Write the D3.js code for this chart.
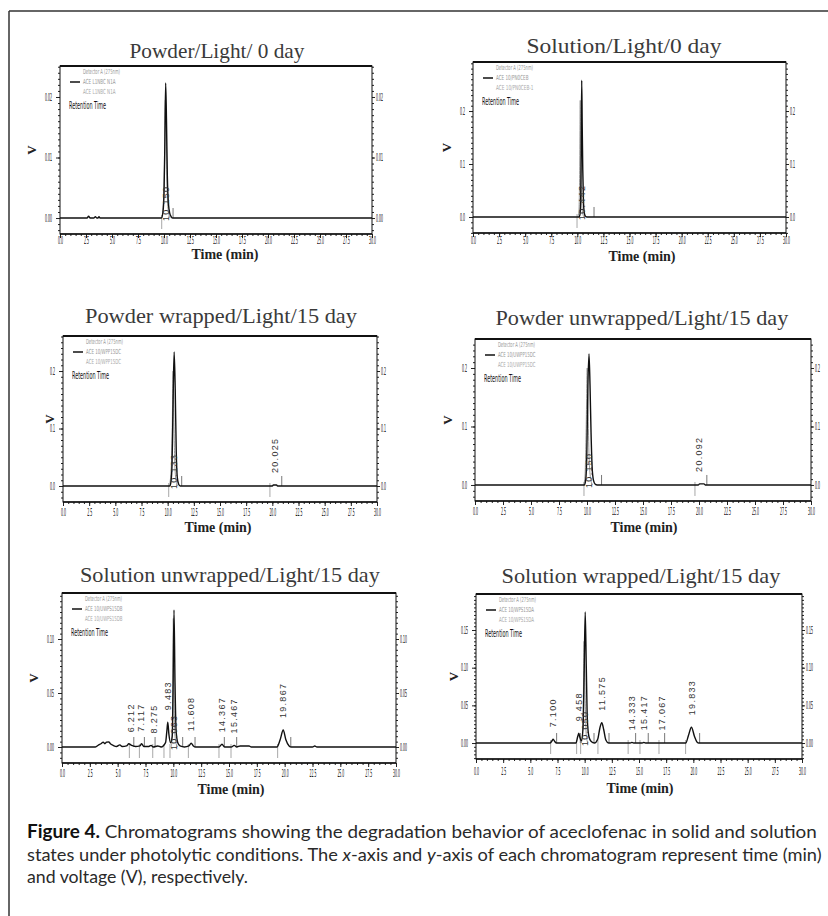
<!DOCTYPE html>
<html><head><meta charset="utf-8">
<script src="https://cdn.jsdelivr.net/npm/d3@7"></script>
<style>body{margin:0;background:#fff}svg{display:block}</style>
</head><body>
<svg id="fig" width="828" height="916"></svg>
<script>
// ---------------- DATA ----------------
const xTicks = [0, 2.5, 5, 7.5, 10, 12.5, 15, 17.5, 20, 22.5, 25, 27.5, 30];
const titles = ["Powder/Light/ 0 day", "Solution/Light/0 day", "Powder wrapped/Light/15 day",
  "Powder unwrapped/Light/15 day", "Solution unwrapped/Light/15 day", "Solution wrapped/Light/15 day"];
const yDomains = [[-0.00264, 0.02512], [-0.0302, 0.2925], [-0.0278, 0.2609], [-0.0274, 0.2496], [-0.0148, 0.1426], [-0.0212, 0.1978]];
const yTicks = [[0, 0.01, 0.02], [0, 0.1, 0.2], [0, 0.1, 0.2], [0, 0.1, 0.2], [0, 0.05, 0.10], [0, 0.05, 0.10, 0.15]];
const yTickFormats = [".2f", ".1f", ".1f", ".1f", ".2f", ".2f"];
const yMinorSteps = [0.001, 0.01, 0.01, 0.01, 0.005, 0.005];
const legendDetector = "Detector A (275nm)";
const legendSample = ["ACE L1NBC N1A", "ACE 10/PN0CEB", "ACE 10/WPP15DC", "ACE 10/UWPP15DC", "ACE 10/UWPS15DB", "ACE 10/WPS15DA"];
const legendBlank = ["ACE L1NBC N1A", "ACE 10/PN0CEB-1", "ACE 10/WPP15DC", "ACE 10/UWPP15DC", "ACE 10/UWPS15DB", "ACE 10/WPS15DA"];
const legendRetention = "Retention Time";

const trace1 = [[0,0],[2.6,0],[2.75,0.0003],[2.9,0],[3.25,0],[3.4,0.0002],[3.55,0],[3.65,0],[3.75,0.0002],[3.85,0],[9.75,0],[9.9,0.001],[10.0,0.004],[10.08,0.012],[10.16,0.0223],[10.24,0.016],[10.32,0.007],[10.42,0.0025],[10.55,0.0008],[10.7,0.0002],[10.85,0],[30,0]];
const overlay1 = [[9.8,0],[9.95,0.003],[10.05,0.009],[10.13,0.0195],[10.22,0.014],[10.3,0.005],[10.42,0.001],[10.6,0]];
const peaks1 = [[10.16,0.0223,"10.150"]];
const starts1 = [9.78];
const ends1 = [10.87];

const trace2 = [[0,0],[10.15,0],[10.25,0.004],[10.32,0.03],[10.37,0.12],[10.42,0.258],[10.47,0.17],[10.52,0.09],[10.58,0.035],[10.65,0.01],[10.75,0.002],[10.9,0],[30,0]];
const overlay2 = [[10.05,0],[10.15,0.01],[10.22,0.08],[10.28,0.22],[10.33,0.12],[10.4,0.04],[10.5,0.008],[10.65,0]];
const peaks2 = [[10.42,0.258,"10.442"]];
const starts2 = [9.97];
const ends2 = [11.6];

const trace3 = [[0,0],[10.2,0],[10.32,0.008],[10.42,0.04],[10.52,0.15],[10.62,0.233],[10.72,0.17],[10.82,0.06],[10.92,0.015],[11.05,0.003],[11.2,0],[20.0,0],[20.1,0.0018],[20.4,0.0018],[20.5,0],[30,0]];
const overlay3 = [[10.15,0],[10.3,0.02],[10.42,0.08],[10.52,0.2],[10.6,0.11],[10.7,0.03],[10.85,0.005],[11.0,0]];
const peaks3 = [[10.62,0.233,"10.133"],[20.28,0.0018,"20.025"]];
const starts3 = [10.1, 19.77];
const ends3 = [11.34, 20.9];

const trace4 = [[0,0],[9.75,0],[9.88,0.008],[9.98,0.05],[10.08,0.17],[10.18,0.224],[10.27,0.17],[10.36,0.09],[10.46,0.03],[10.58,0.008],[10.75,0.001],[10.9,0],[19.95,0],[20.05,0.0018],[20.45,0.0018],[20.55,0],[30,0]];
const overlay4 = [[9.7,0],[9.82,0.015],[9.92,0.09],[10.02,0.2],[10.1,0.12],[10.2,0.04],[10.35,0.008],[10.5,0]];
const peaks4 = [[10.18,0.224,"10.150"],[20.0,0.0018,"20.092"]];
const starts4 = [9.73, 19.64];
const ends4 = [11.3, 20.7];

const trace5 = [[0,0],[3.0,0],[3.3,0.002],[3.5,0.003],[3.7,0.0045],[3.85,0.003],[4.0,0.0045],[4.2,0.0048],[4.35,0.003],[4.6,0.0015],[4.9,0.0005],[5.2,0.002],[5.4,0.0005],[5.8,0.001],[6.0,0.003],[6.25,0.0015],[6.6,0.0005],[7.0,0.001],[7.15,0.003],[7.35,0.0005],[7.8,0.0005],[8.0,0.0015],[8.2,0],[8.6,0.001],[8.9,0],[9.3,0.004],[9.42,0.015],[9.5,0.023],[9.6,0.012],[9.75,0.004],[9.9,0.01],[9.97,0.05],[10.06,0.127],[10.15,0.06],[10.25,0.015],[10.4,0.004],[10.6,0.001],[11.0,0],[11.4,0.001],[11.6,0.0035],[11.8,0.001],[12.0,0],[14.1,0],[14.37,0.0025],[14.6,0],[15.2,0],[15.47,0.0015],[15.7,0],[16.0,0.001],[16.8,0.001],[17.0,0],[19.3,0],[19.6,0.007],[19.87,0.0157],[20.1,0.007],[20.4,0.001],[20.6,0],[22.5,0],[22.7,0.001],[22.9,0],[30,0]];
const overlay5 = [[9.8,0],[9.9,0.01],[9.96,0.05],[10.0,0.119],[10.05,0.06],[10.12,0.015],[10.25,0.003],[10.4,0]];
const peaks5 = [[6.212,0.0025,"6.212"],[7.117,0.003,"7.117"],[8.275,0.0015,"8.275"],[9.483,0.023,"9.483"],[10.063,0.127,"10.063"],[11.608,0.0035,"11.608"],[14.367,0.0025,"14.367"],[15.467,0.0015,"15.467"],[19.867,0.0157,"19.867"]];
const starts5 = [6.05, 6.95, 8.15, 9.16, 9.7, 11.35, 14.1, 15.18, 19.37];
const ends5 = [6.45, 7.4, 8.36, 10.84, 11.95, 14.58, 15.69, 20.55];

const trace6 = [[0,0],[6.8,0],[7.0,0.003],[7.1,0.005],[7.25,0.002],[7.4,0],[9.2,0],[9.35,0.008],[9.46,0.013],[9.55,0.008],[9.7,0.003],[9.85,0.02],[9.95,0.09],[10.05,0.174],[10.15,0.1],[10.25,0.03],[10.4,0.008],[10.6,0.002],[10.9,0],[11.2,0.005],[11.4,0.02],[11.575,0.027],[11.75,0.018],[11.95,0.004],[12.2,0],[14.2,0],[14.33,0.0008],[14.5,0],[15.3,0],[15.42,0.0008],[15.6,0],[19.3,0],[19.55,0.01],[19.83,0.021],[20.1,0.009],[20.35,0.001],[20.5,0],[30,0]];
const overlay6 = [[9.7,0],[9.85,0.03],[9.95,0.135],[10.05,0.06],[10.15,0.01],[10.3,0]];
const peaks6 = [[7.100,0.005,"7.100"],[9.458,0.013,"9.458"],[10.050,0.174,"10.050"],[11.575,0.027,"11.575"],[14.333,0.001,"14.333"],[15.417,0.001,"15.417"],[17.067,0.0008,"17.067"],[19.833,0.021,"19.833"]];
const starts6 = [6.87, 9.26, 9.63, 11.22, 14.0, 15.09, 16.84, 19.29];
const ends6 = [7.42, 9.6, 10.86, 12.24, 14.69, 15.85, 17.36, 20.58];

const captionLines = [
  [["Figure 4.", "b"], [" Chromatograms showing the degradation behavior of aceclofenac in solid and solution", ""]],
  [["states under photolytic conditions. The ", ""], ["x", "i"], ["-axis and ", ""], ["y", "i"], ["-axis of each chromatogram represent time (min)", ""]],
  [["and voltage (V), respectively.", ""]]
];

// ---------------- LAYOUT ----------------
const traces = [trace1, trace2, trace3, trace4, trace5, trace6];
const overlays = [overlay1, overlay2, overlay3, overlay4, overlay5, overlay6];
const peaks = [peaks1, peaks2, peaks3, peaks4, peaks5, peaks6];
const starts = [starts1, starts2, starts3, starts4, starts5, starts6];
const ends = [ends1, ends2, ends3, ends4, ends5, ends6];

const layout = [
  {box:[60,66,372,234],  titleX:217, titleY:58,  titleW:175, timeX:225, timeY:259, xLab:6,  vX:31},
  {box:[473,62,786,233], titleX:624, titleY:53,  titleW:195, timeX:642, timeY:261, xLab:7,  vX:446},
  {box:[63,336,377,502], titleX:221, titleY:323, titleW:272, timeX:218, timeY:532, xLab:10, vX:49},
  {box:[475,339,811,501],titleX:642, titleY:325, titleW:293, timeX:644, timeY:532, xLab:10, vX:447},
  {box:[62,593,396,763], titleX:230, titleY:582, titleW:300, timeX:231, timeY:794, xLab:10, vX:33},
  {box:[476,594,802,759],titleX:641, titleY:583, titleW:279, timeX:640, timeY:793, xLab:12, vX:453}
];

const NARROW = "'Liberation Sans Narrow','DejaVu Sans Condensed','Liberation Sans',sans-serif";
const SERIF = "'Liberation Serif','DejaVu Serif',serif";

const svg = d3.select("#fig");
svg.append("rect").attr("width", 828).attr("height", 916).attr("fill", "#fff");
svg.append("line").attr("x1", 9).attr("y1", 11).attr("x2", 828).attr("y2", 11).attr("stroke", "#333").attr("stroke-width", 1.5);
svg.append("line").attr("x1", 9).attr("y1", 11).attr("x2", 9).attr("y2", 916).attr("stroke", "#333").attr("stroke-width", 1.5);

function fitText(sel, x, y, w, anchor) {
  sel.attr("x", 0).attr("y", 0).attr("text-anchor", "start");
  const len = sel.node().getComputedTextLength();
  const sx = w / len;
  const left = anchor === "middle" ? x - w / 2 : x;
  sel.attr("transform", `translate(${left},${y}) scale(${sx},1)`);
}

function styleTicks(sel, size, perChar) {
  sel.attr("font-family", NARROW).attr("font-size", size).attr("fill", "#111")
    .attr("lengthAdjust", "spacingAndGlyphs")
    .attr("textLength", function () { const t = this.textContent; return t.replace(".", "").length * perChar + 1.2; });
}

titles.forEach((title, i) => {
  const L = layout[i];
  const [x0, y0, x1, y1] = L.box;
  const yd = yDomains[i];
  const x = d3.scaleLinear().domain([0, 30]).range([x0, x1]);
  const y = d3.scaleLinear().domain(yd).range([y1, y0]);
  const g = svg.append("g");

  const cid = "clip" + i;
  svg.append("clipPath").attr("id", cid).append("rect")
    .attr("x", x0).attr("y", y0).attr("width", x1 - x0).attr("height", y1 - y0);

  // title
  const tt = g.append("text").text(title).attr("font-family", SERIF).attr("font-size", 21).attr("fill", "#3a3a3a");
  fitText(tt, L.titleX, L.titleY, L.titleW, "middle");

  // minor x ticks
  const minorX = d3.range(0, 30.001, 0.5);
  g.append("g").attr("transform", `translate(0,${y1})`)
    .call(d3.axisBottom(x).tickValues(minorX).tickSize(2).tickFormat(""))
    .call(s => s.select(".domain").remove())
    .selectAll("line").attr("stroke", "#222");
  const ax = g.append("g").attr("transform", `translate(0,${y1})`)
    .call(d3.axisBottom(x).tickValues(xTicks).tickSize(4).tickFormat(d3.format(".1f")));
  ax.select(".domain").remove();
  ax.selectAll("line").attr("stroke", "#222");
  ax.selectAll("text").attr("y", L.xLab).attr("dy", "0.35em").call(styleTicks, 10, 1.9);

  // y minor ticks
  const step = yMinorSteps[i];
  const minorY = d3.range(Math.ceil(yd[0] / step), Math.floor(yd[1] / step) + 1).map(k => k * step);
  [["left", x0], ["right", x1]].forEach(([side, xp]) => {
    const axisFn = side === "left" ? d3.axisLeft : d3.axisRight;
    g.append("g").attr("transform", `translate(${xp},0)`)
      .call(axisFn(y).tickValues(minorY).tickSize(2).tickFormat(""))
      .call(s => s.select(".domain").remove())
      .selectAll("line").attr("stroke", "#222");
    const ay = g.append("g").attr("transform", `translate(${xp},0)`)
      .call(axisFn(y).tickValues(yTicks[i]).tickSize(side === "left" ? 4 : 3)
        .tickPadding(side === "left" ? 4 : 1).tickFormat(d3.format(yTickFormats[i])));
    ay.select(".domain").remove();
    ay.selectAll("line").attr("stroke", "#222");
    ay.selectAll("text").call(styleTicks, 10, 1.9);
  });

  // box
  g.append("rect").attr("x", x0).attr("y", y0).attr("width", x1 - x0).attr("height", y1 - y0)
    .attr("fill", "none").attr("stroke", "#111").attr("stroke-width", 1);
  g.append("line").attr("x1", x0).attr("x2", x1).attr("y1", y0).attr("y2", y0).attr("stroke", "#111").attr("stroke-width", 2);
  g.append("line").attr("x1", x0).attr("x2", x1).attr("y1", y1).attr("y2", y1).attr("stroke", "#111").attr("stroke-width", 1.5);

  // integration marks
  const y0v = y(0);
  g.selectAll(".sm").data(starts[i]).enter().append("line")
    .attr("x1", d => x(d)).attr("x2", d => x(d)).attr("y1", y0v - 3).attr("y2", y0v + 11)
    .attr("stroke", "#a8a8a8").attr("stroke-width", 1);
  g.selectAll(".em").data(ends[i]).enter().append("line")
    .attr("x1", d => x(d)).attr("x2", d => x(d)).attr("y1", y0v).attr("y2", y0v - 10)
    .attr("stroke", "#777").attr("stroke-width", 1);

  // traces
  const line = d3.line().x(d => x(d[0])).y(d => y(d[1])).curve(d3.curveMonotoneX);
  g.append("path").datum(overlays[i]).attr("clip-path", `url(#${cid})`).attr("d", line)
    .attr("fill", "none").attr("stroke", "#9a9a9a").attr("stroke-width", 1);
  g.append("path").datum(traces[i]).attr("clip-path", `url(#${cid})`).attr("d", line)
    .attr("fill", "none").attr("stroke", "#111").attr("stroke-width", 1.4).attr("stroke-linejoin", "round");

  // peak labels
  peaks[i].forEach(([t, h, lab]) => {
    const px = x(t);
    const py = h > 0.5 * yd[1] ? y(0) + 3 : y(h) - 12;
    g.append("text").text(lab)
      .attr("x", px).attr("y", py).attr("dy", "0.35em")
      .attr("transform", `rotate(-90,${px},${py})`)
      .attr("font-family", "'Liberation Sans',Arial,sans-serif").attr("font-size", 9)
      .attr("letter-spacing", 1.3).attr("fill", "#333");
  });

  // legend
  const lg = g.append("g").attr("font-family", NARROW);
  lg.append("text").text(legendDetector).attr("x", x0 + 23).attr("y", y0 + 6).attr("dy", "0.35em")
    .attr("font-size", 7).attr("fill", "#999").attr("textLength", 37).attr("lengthAdjust", "spacingAndGlyphs");
  lg.append("line").attr("x1", x0 + 10).attr("x2", x0 + 20).attr("y1", y0 + 16).attr("y2", y0 + 16)
    .attr("stroke", "#111").attr("stroke-width", 1.5);
  lg.append("text").text(legendSample[i]).attr("x", x0 + 23).attr("y", y0 + 16).attr("dy", "0.35em")
    .attr("font-size", 7).attr("fill", "#999").attr("textLength", legendSample[i].length * 2.5).attr("lengthAdjust", "spacingAndGlyphs");
  lg.append("text").text(legendBlank[i]).attr("x", x0 + 23).attr("y", y0 + 26).attr("dy", "0.35em")
    .attr("font-size", 7).attr("fill", "#aaa").attr("textLength", legendBlank[i].length * 2.5).attr("lengthAdjust", "spacingAndGlyphs");
  lg.append("text").text(legendRetention).attr("x", x0 + 9).attr("y", y0 + 39).attr("dy", "0.35em")
    .attr("font-size", 10).attr("fill", "#111").attr("textLength", 37).attr("lengthAdjust", "spacingAndGlyphs");

  // axis titles
  g.append("text").text("Time (min)").attr("x", L.timeX).attr("y", L.timeY).attr("text-anchor", "middle")
    .attr("font-family", SERIF).attr("font-weight", "bold").attr("font-size", 14).attr("fill", "#222");
  const vy = (y0 + y1) / 2;
  g.append("text").text("V").attr("x", L.vX).attr("y", vy).attr("text-anchor", "middle").attr("dy", "0.35em")
    .attr("transform", `rotate(-90,${L.vX},${vy})`)
    .attr("font-family", SERIF).attr("font-weight", "bold").attr("font-size", 13).attr("fill", "#222");
});

// caption
const capY = [838, 861, 883];
const capW = [790, 795, 221];
captionLines.forEach((parts, li) => {
  const t = svg.append("text").attr("font-family", "Lato,'Open Sans',sans-serif")
    .attr("font-size", 18).attr("fill", "#2a2a2a");
  parts.forEach(([s, st]) => {
    const ts = t.append("tspan").text(s);
    if (st === "b") ts.attr("font-weight", "bold").attr("fill", "#111");
    if (st === "i") ts.attr("font-style", "italic");
  });
  fitText(t, 27, capY[li], capW[li], "start");
});
</script>
</body></html>
